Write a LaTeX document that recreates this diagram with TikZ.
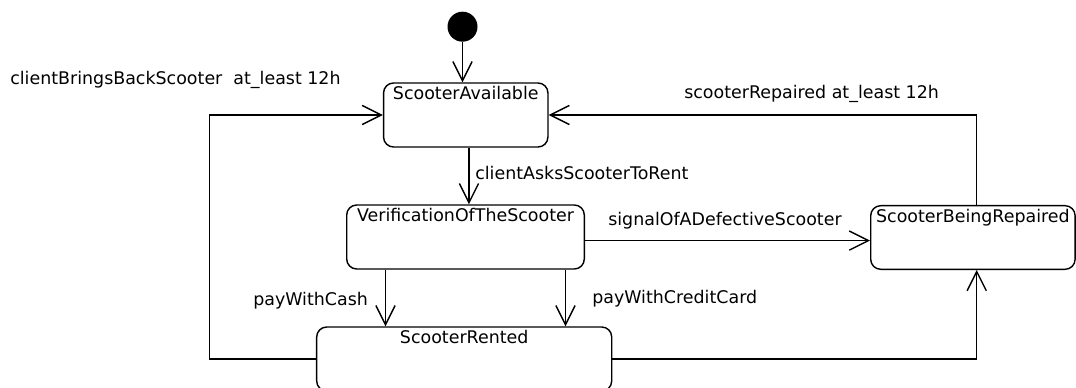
\documentclass[tikz,border=0pt]{standalone}
\usepackage{fontspec}
\setmainfont{DejaVu Sans}
\usetikzlibrary{arrows.meta}

\begin{document}
\begin{tikzpicture}[x=0.25mm, y=-0.25mm, font=\fontsize{12.4}{15}\selectfont,
  state/.style={draw, line width=1pt, rounded corners=2.5mm, inner sep=0pt},
  title/.style={anchor=north, inner sep=1mm},
  init/.style={circle, fill=black, minimum size=7.5mm, inner sep=0pt},
  trans/.style={line width=1pt, -{Straight Barb[length=4.8mm, width=4.8mm]}},
  lbl/.style={anchor=base west, inner sep=0pt}]
\useasboundingbox (0,0) rectangle (1076,388);
\newcommand{\stbox}[5]{\node[state, minimum width=#3, minimum height=#4,
  label={[title]north:#5}] (#1) at #2 {};}
\node[init] (start) at (462.5,26.7) {};
\stbox{avail}{(465.75,115)}{41.1mm}{16mm}{ScooterAvailable}
\stbox{verif}{(465.5,237)}{59.4mm}{16mm}{VerificationOfTheScooter}
\stbox{repair}{(972.9,237.5)}{51.1mm}{15.9mm}{ScooterBeingRepaired}
\stbox{rented}{(464.2,359)}{73.75mm}{16mm}{ScooterRented}
\draw[trans] (start.south) -- (start.south |- avail.north);
\draw[trans] ([xshift=0.8mm]avail.south) -- ([xshift=0.8mm]avail.south |- verif.north);
\draw[trans] ([xshift=-20mm]verif.south) -- ([xshift=-20mm]verif.south |- rented.north);
\draw[trans] ([xshift=25mm]verif.south) -- ([xshift=25mm]verif.south |- rented.north);
\draw[trans] ([yshift=-0.9mm]verif.east) -- ([yshift=-0.9mm]verif.east -| repair.west);
\draw[trans] (rented.east) -| ([xshift=0.95mm]repair.south);
\draw[trans] ([xshift=0.95mm]repair.north) |- (avail.east);
\draw[trans] (rented.west) -- ++(-106.7,0) |- (avail.west);
\node[lbl] (lbBack) at (10,85) {clientBringsBackScooter\ \ at\_least 12h};
\node[lbl] (lbRepaired) at (684,98.3) {scooterRepaired at\_least 12h};
\node[lbl] (lbAsks) at (475,179.3) {clientAsksScooterToRent};
\node[lbl] (lbSignal) at (608,226) {signalOfADefectiveScooter};
\node[lbl] (lbCash) at (253,306) {payWithCash};
\node[lbl] (lbCredit) at (592,304) {payWithCreditCard};
\end{tikzpicture}
\end{document}
